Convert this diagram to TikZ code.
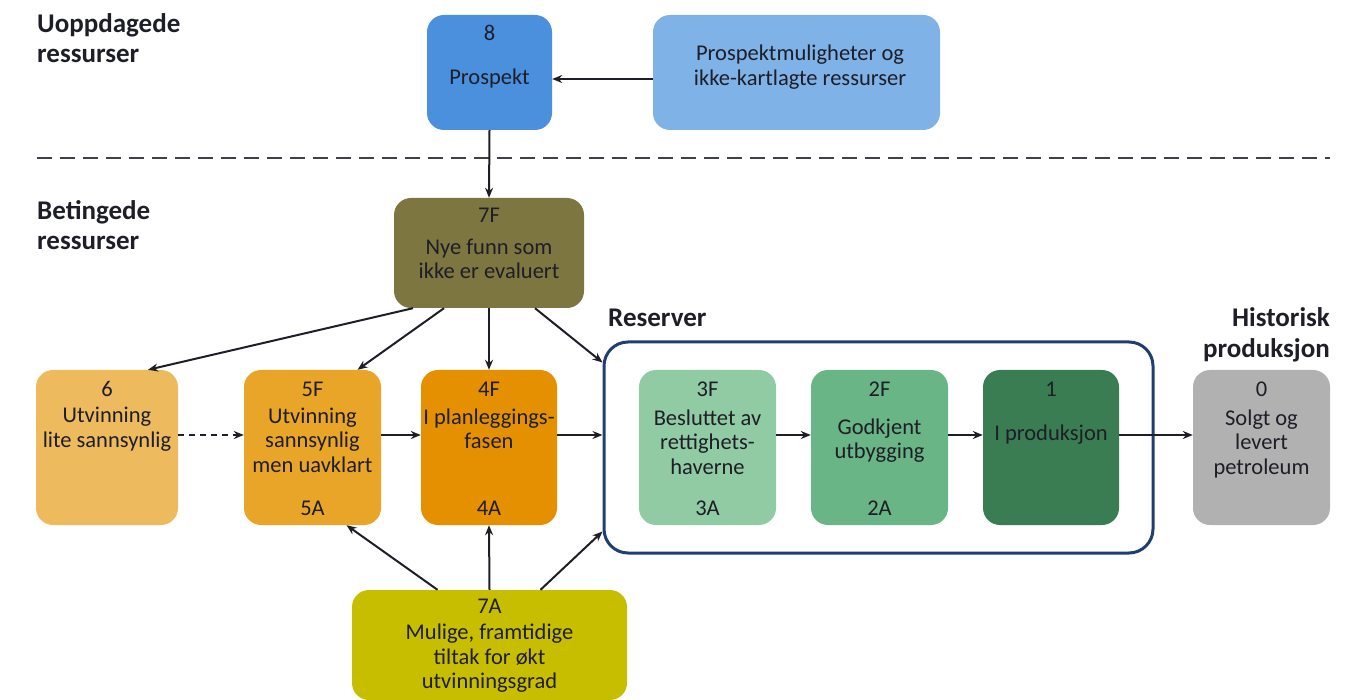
\documentclass[tikz,border=0pt]{standalone}
\usepackage{fontspec}
\setmainfont{Carlito}
\usetikzlibrary{arrows.meta}
\definecolor{c8}{RGB}{74,144,220}
\definecolor{cpm}{RGB}{127,178,231}
\definecolor{c7f}{RGB}{126,118,64}
\definecolor{c6}{RGB}{237,187,94}
\definecolor{c5}{RGB}{233,165,40}
\definecolor{c4}{RGB}{229,144,0}
\definecolor{c3}{RGB}{144,203,164}
\definecolor{c2}{RGB}{106,181,133}
\definecolor{c1}{RGB}{58,125,82}
\definecolor{c0}{RGB}{177,177,177}
\definecolor{c7a}{RGB}{200,190,0}
\definecolor{frame}{RGB}{31,63,115}
\definecolor{txt}{RGB}{30,30,40}
\tikzset{
  box/.style={draw=none, rounded corners=17pt, inner sep=0pt, minimum height=155pt, minimum width=137pt},
  lbl/.style={text=txt, font=\fontsize{22.5}{24.5}\selectfont, align=center, inner sep=0pt},
  ttl/.style={text=txt, font=\fontsize{27}{30}\selectfont\bfseries, inner sep=0pt},
  arr/.style={draw=txt, line width=2pt, -{Stealth[length=10pt,width=8pt]}},
}
\begin{document}
\begin{tikzpicture}[x=1pt,y=-1pt]
\useasboundingbox (0,0) rectangle (1363,700);
% titles
\node[ttl, anchor=base west] (t1) at (37,33) {Uoppdagede};
\node[ttl, anchor=base west] (t1b) at (37,63) {ressurser};
\node[ttl, anchor=base west] (t2) at (37,220) {Betingede};
\node[ttl, anchor=base west] (t2b) at (37,250) {ressurser};
\node[ttl, anchor=base west] (t3) at (608,327) {Reserver};
\node[ttl, anchor=base east] (t4) at (1330,327) {Historisk};
\node[ttl, anchor=base east] (t4b) at (1330,358) {produksjon};
% dashed separator
\coordinate (dl) at (37,158);
\coordinate (dr) at (1330,158);
\draw[txt!85, line width=1.2pt, dash pattern=on 15pt off 8pt] (dl) -- (dr);
% top boxes
\node[box, fill=c8, minimum width=125pt, minimum height=115pt] (n8) at (489.5,72.5) {};
\node[lbl] (n8a) at (489.5,33) {8};
\node[lbl] (n8b) at (489.5,79) {Prospekt};
\node[box, fill=cpm, minimum width=287pt, minimum height=115pt] (pm) at (796.5,72.5) {};
\node[lbl] (pma) at (800,67) {Prospektmuligheter og\\ikke-kartlagte ressurser};
% 7F
\node[box, fill=c7f, minimum width=190pt, minimum height=110pt] (n7f) at (489,253) {};
\node[lbl] (n7fa) at (489,215) {7F};
\node[lbl] (n7fb) at (489,259) {Nye funn som\\ikke er evaluert};
% row
\node[box, fill=c6, minimum width=142pt] (n6) at (107,447.5) {};
\node[lbl] (n6a) at (107,389) {6};
\node[lbl] (n6b) at (107,429) {Utvinning\\lite sannsynlig};
\node[box, fill=c5] (n5) at (312.5,447.5) {};
\node[lbl] (n5a) at (312.5,389) {5F};
\node[lbl] (n5b) at (312.5,440) {Utvinning\\sannsynlig\\men uavklart};
\node[lbl] (n5c) at (312.5,508) {5A};
\node[box, fill=c4, minimum width=136pt] (n4) at (489,447.5) {};
\node[lbl] (n4a) at (489,389) {4F};
\node[lbl] (n4b) at (489,429) {I planleggings-\\fasen};
\node[lbl] (n4c) at (489,508) {4A};
% reserves frame
\node[draw=frame, line width=3pt, rounded corners=24pt, minimum width=549pt, minimum height=211pt, inner sep=0pt] (res) at (878.5,447.5) {};
\node[box, fill=c3] (n3) at (707.5,447.5) {};
\node[lbl] (n3a) at (707.5,389) {3F};
\node[lbl] (n3b) at (707.5,442) {Besluttet av\\rettighets-\\haverne};
\node[lbl] (n3c) at (707.5,508) {3A};
\node[box, fill=c2] (n2) at (879.5,447.5) {};
\node[lbl] (n2a) at (879.5,389) {2F};
\node[lbl] (n2b) at (879.5,440.5) {Godkjent\\utbygging};
\node[lbl] (n2c) at (879.5,508) {2A};
\node[box, fill=c1, minimum width=136pt] (n1) at (1051,447.5) {};
\node[lbl] (n1a) at (1051,389) {1};
\node[lbl] (n1b) at (1051,435) {I produksjon};
\node[box, fill=c0] (n0) at (1261.5,447.5) {};
\node[lbl] (n0a) at (1261.5,389) {0};
\node[lbl] (n0b) at (1261.5,444) {Solgt og\\levert\\petroleum};
% 7A
\node[box, fill=c7a, minimum width=275pt, minimum height=110pt] (n7a) at (489.5,645) {};
\node[lbl] (n7aa) at (489.5,606) {7A};
\node[lbl] (n7ab) at (489.5,658.5) {Mulige, framtidige\\tiltak for økt\\utvinningsgrad};
% connectors
\draw[arr] (pm.west |- 0,79) -- (n8.east |- 0,79);
\draw[arr] (n8.south) -- (n7f.north);
\draw[arr] ([xshift=-76pt]n7f.south) -- ([xshift=41pt]n6.north);
\draw[arr] ([xshift=-45pt]n7f.south) -- ([xshift=45pt]n5.north);
\draw[arr] (n7f.south) -- (n4.north);
\draw[arr] ([xshift=46pt]n7f.south) -- ([yshift=-22pt]res.north west);
\draw[arr, dash pattern=on 6pt off 5pt] (n6.east |- 0,435) -- (n5.west |- 0,435);
\draw[arr] (n5.east |- 0,435) -- (n4.west |- 0,435);
\draw[arr] (n4.east |- 0,435) -- (res.west |- 0,435);
\draw[arr] (n3.east |- 0,435) -- (n2.west |- 0,435);
\draw[arr] (n2.east |- 0,435) -- (n1.west |- 0,435);
\draw[arr] (n1.east |- 0,435) -- (n0.west |- 0,435);
\draw[arr] ([xshift=-52pt]n7a.north) -- ([xshift=34pt]n5.south);
\draw[arr] (n7a.north) -- (n4.south);
\draw[arr] ([xshift=51pt]n7a.north) -- ([yshift=23pt]res.south west);
\end{tikzpicture}
\end{document}
